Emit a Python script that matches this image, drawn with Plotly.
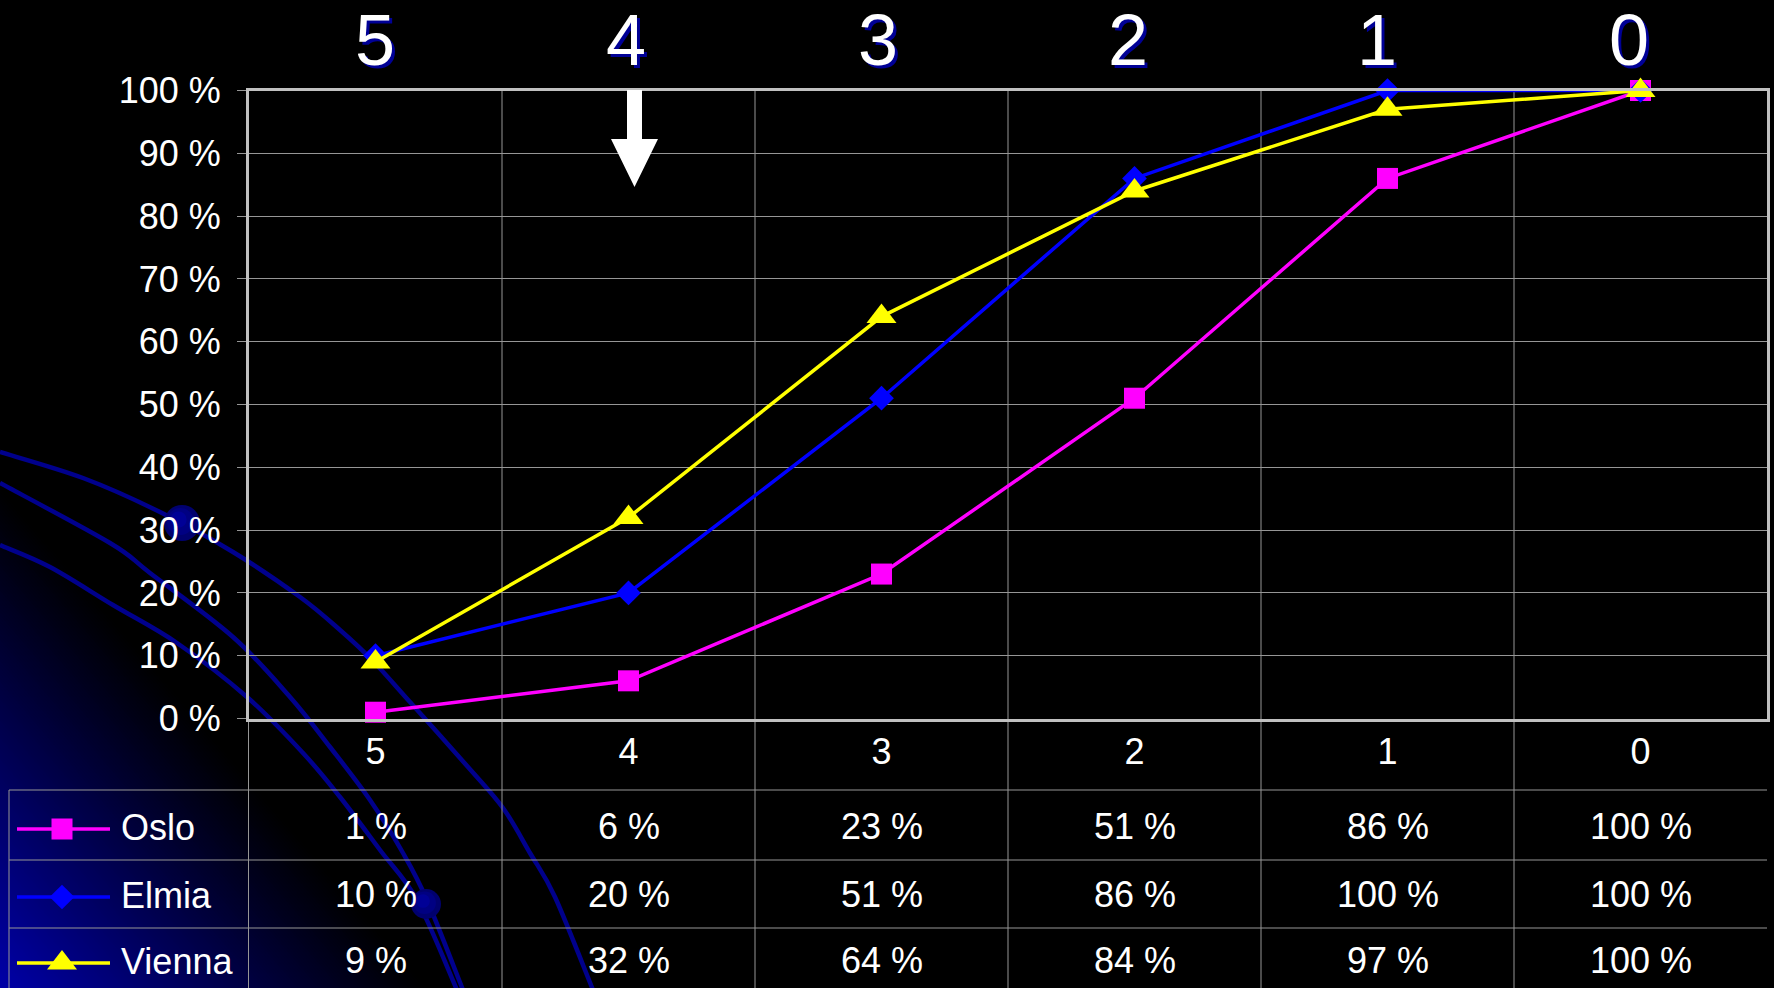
import plotly.graph_objects as go

# ---- data -------------------------------------------------------------
scores = ["5", "4", "3", "2", "1", "0"]
oslo = [1, 6, 23, 51, 86, 100]
elmia = [10, 20, 51, 86, 100, 100]
vienna = [9, 32, 64, 84, 97, 100]
pct_ticks = list(range(0, 101, 10))
pct_labels = [f"{v} %" for v in pct_ticks]

series_names = ["Oslo", "Elmia", "Vienna"]
series_values = [oslo, elmia, vienna]
series_colors = ["#FF00FF", "#0000FF", "#FFFF00"]
series_symbols = ["square", "diamond", "triangle-up"]
series_sizes = [21, 19, 26]

# ---- page geometry (pixels) -------------------------------------------
W, H = 1774, 988
PLOT_L, PLOT_R, PLOT_T, PLOT_B = 249, 1767, 90.5, 718.5
TABLE_L = 9
ROW_LINES = [790, 860, 928]
ROW_CENTERS = [826, 894, 960]
LEGEND_LINE_X = [17, 110]
LEGEND_MARK_X = 62
LEGEND_TEXT_X = 119
HEADER_X = [374.5, 625.5, 878, 1128, 1377, 1629]
HEADER_Y = 40
FONT = "Liberation Sans, Arial, sans-serif"
GRID = "rgb(150,150,150)"
FRAME = "rgb(192,192,192)"
TXT = 36


def px(x):
    return x / W


def py(y):
    return 1 - y / H


x_dom = [px(PLOT_L), px(PLOT_R)]
y_dom = [py(PLOT_B), py(PLOT_T)]
xs = list(range(len(scores)))

fig = go.Figure()

# ---- chart lines ------------------------------------------------------
for name, vals, col, sym, size in zip(series_names, series_values, series_colors,
                                      series_symbols, series_sizes):
    fig.add_trace(go.Scatter(
        x=xs, y=vals, name=name, mode="lines+markers",
        line=dict(color=col, width=3.5),
        marker=dict(symbol=sym, size=size, color=col, line=dict(width=0)),
        cliponaxis=False, showlegend=False, xaxis="x", yaxis="y",
        hovertemplate=name + ": %{y} %<extra></extra>",
    ))

# ---- legend keys in the table's first column ---------------------------
for name, col, sym, size, ry in zip(series_names, series_colors, series_symbols,
                                    series_sizes, ROW_CENTERS):
    fig.add_trace(go.Scatter(
        x=LEGEND_LINE_X, y=[ry + 3, ry + 3], mode="lines",
        line=dict(color=col, width=3.5), showlegend=False, hoverinfo="skip",
        xaxis="x2", yaxis="y2",
    ))
    fig.add_trace(go.Scatter(
        x=[LEGEND_MARK_X], y=[ry + 3], mode="markers",
        marker=dict(symbol=sym, size=size, color=col, line=dict(width=0)),
        showlegend=False, hoverinfo="skip", cliponaxis=False,
        xaxis="x2", yaxis="y2",
    ))

shapes = []

# ---- blue glow in the lower-left corner --------------------------------
K = 0.855
C_MAX = 430
c = C_MAX
while c > 0:
    t = c / C_MAX
    b = int(round(168 * (1 - t) ** 1.05))
    shapes.append(dict(
        type="path", xref="paper", yref="paper", layer="below",
        path=f"M 0,0 L {px(c):.5f},0 L 0,{(c / K) / H:.5f} Z",
        fillcolor=f"rgb(0,0,{b})", line=dict(width=0),
    ))
    c -= 3


# ---- decorative arcs ----------------------------------------------------
def smooth_path(pts):
    p = [(px(x), py(y)) for x, y in pts]
    d = f"M {p[0][0]:.5f},{p[0][1]:.5f}"
    n = len(p)
    for i in range(n - 1):
        p0 = p[i - 1] if i > 0 else p[i]
        p1 = p[i]
        p2 = p[i + 1]
        p3 = p[i + 2] if i + 2 < n else p[i + 1]
        c1 = (p1[0] + (p2[0] - p0[0]) / 6, p1[1] + (p2[1] - p0[1]) / 6)
        c2 = (p2[0] - (p3[0] - p1[0]) / 6, p2[1] - (p3[1] - p1[1]) / 6)
        d += (f" C {c1[0]:.5f},{c1[1]:.5f} {c2[0]:.5f},{c2[1]:.5f}"
              f" {p2[0]:.5f},{p2[1]:.5f}")
    return d


arc_a = [(0, 452), (83, 478), (160, 512), (233, 552), (300, 597), (340, 630),
         (372, 660), (410, 702), (468, 767), (503, 808), (530, 853),
         (555, 897), (593, 990)]
arc_b = [(0, 483), (110, 543), (150, 573), (233, 637), (290, 697), (330, 747),
         (370, 800), (403, 853), (427, 900), (463, 990)]
arc_c = [(0, 545), (50, 567), (113, 605), (177, 643), (247, 697), (303, 753),
         (340, 797), (380, 850), (417, 900), (457, 990)]
for arc in (arc_a, arc_b, arc_c):
    shapes.append(dict(
        type="path", xref="paper", yref="paper", layer="below",
        path=smooth_path(arc), line=dict(color="rgb(0,0,140)", width=4.5),
    ))

for cx, cy, r in [(182, 523, 18), (426, 904, 15)]:
    for k, col in [(1.0, "rgb(0,0,110)"), (0.75, "rgb(0,0,130)"),
                   (0.45, "rgb(0,0,150)")]:
        rr = r * k
        ox = -r * (1 - k) * 0.35
        shapes.append(dict(
            type="circle", xref="paper", yref="paper", layer="below",
            x0=px(cx + ox - rr), x1=px(cx + ox + rr),
            y0=py(cy + ox + rr), y1=py(cy + ox - rr),
            fillcolor=col, line=dict(width=0),
        ))

# ---- vertical grid / table column lines ---------------------------------
for i in range(len(scores) - 1):
    shapes.append(dict(
        type="line", xref="x", yref="paper", layer="below",
        x0=i + 0.5, x1=i + 0.5, y0=0, y1=py(PLOT_T),
        line=dict(color=GRID, width=1),
    ))
shapes.append(dict(
    type="line", xref="paper", yref="paper", layer="below",
    x0=px(PLOT_L - 0.5), x1=px(PLOT_L - 0.5), y0=0, y1=py(PLOT_B),
    line=dict(color=GRID, width=1),
))
shapes.append(dict(
    type="line", xref="paper", yref="paper", layer="below",
    x0=px(TABLE_L), x1=px(TABLE_L), y0=0, y1=py(ROW_LINES[0]),
    line=dict(color=GRID, width=1),
))
for yl in ROW_LINES:
    shapes.append(dict(
        type="line", xref="paper", yref="paper", layer="below",
        x0=px(TABLE_L), x1=px(PLOT_R), y0=py(yl), y1=py(yl),
        line=dict(color=GRID, width=1),
    ))

# ---- downward arrow under score 4 --------------------------------------
arrow = [(627, 90), (642, 90), (642, 139), (658, 139), (634.5, 187),
         (611, 139), (627, 139)]
shapes.append(dict(
    type="path", xref="paper", yref="paper", layer="above",
    path="M " + " L ".join(f"{px(x):.5f},{py(y):.5f}" for x, y in arrow) + " Z",
    fillcolor="white", line=dict(width=0),
))

# ---- text ---------------------------------------------------------------
annotations = []
for s, hx in zip(scores, HEADER_X):
    for dx, dy, col in [(3, -3, "rgb(0,0,150)"), (0, 0, "white")]:
        annotations.append(dict(
            x=px(hx), y=py(HEADER_Y), xref="paper", yref="paper", text=s,
            showarrow=False, xanchor="center", yanchor="middle",
            xshift=dx, yshift=dy,
            font=dict(family=FONT, size=72, color=col),
        ))

for vals, ry in zip(series_values, ROW_CENTERS):
    for i, v in enumerate(vals):
        annotations.append(dict(
            x=i, y=py(ry), xref="x", yref="paper", text=f"{v} %",
            showarrow=False, xanchor="center", yanchor="middle",
            font=dict(family=FONT, size=TXT, color="white"),
        ))

for name, ry in zip(series_names, ROW_CENTERS):
    annotations.append(dict(
        x=px(LEGEND_TEXT_X), y=py(ry + 1), xref="paper", yref="paper",
        text=name, showarrow=False, xanchor="left", yanchor="middle",
        font=dict(family=FONT, size=TXT, color="white"),
    ))

fig.update_layout(
    template="none",
    width=W, height=H,
    margin=dict(l=0, r=0, t=0, b=0, pad=0, autoexpand=False),
    paper_bgcolor="black", plot_bgcolor="black",
    showlegend=False,
    shapes=shapes,
    annotations=annotations,
    xaxis=dict(
        domain=x_dom, range=[-0.5, len(scores) - 0.5],
        tickmode="array", tickvals=xs, ticktext=scores,
        showgrid=False, zeroline=False, ticks="",
        showline=True, mirror=True, linecolor=FRAME, linewidth=3,
        tickfont=dict(family=FONT, size=TXT, color="white"),
        ticklabelstandoff=-1, automargin=False, fixedrange=True,
    ),
    yaxis=dict(
        domain=y_dom, range=[0, 100],
        tickmode="array", tickvals=pct_ticks, ticktext=pct_labels,
        showgrid=True, gridcolor=GRID, gridwidth=1, zeroline=False,
        ticks="outside", ticklen=9, tickwidth=1, tickcolor=GRID,
        showline=True, mirror=True, linecolor=FRAME, linewidth=3,
        tickfont=dict(family=FONT, size=TXT, color="white"),
        ticklabelstandoff=9, automargin=False, fixedrange=True,
    ),
    xaxis2=dict(domain=[0, px(PLOT_L)], range=[0, PLOT_L], visible=False,
                fixedrange=True),
    yaxis2=dict(domain=[0, py(ROW_LINES[0])], range=[H, ROW_LINES[0]],
                visible=False, fixedrange=True),
)

fig.write_html("out.html")
